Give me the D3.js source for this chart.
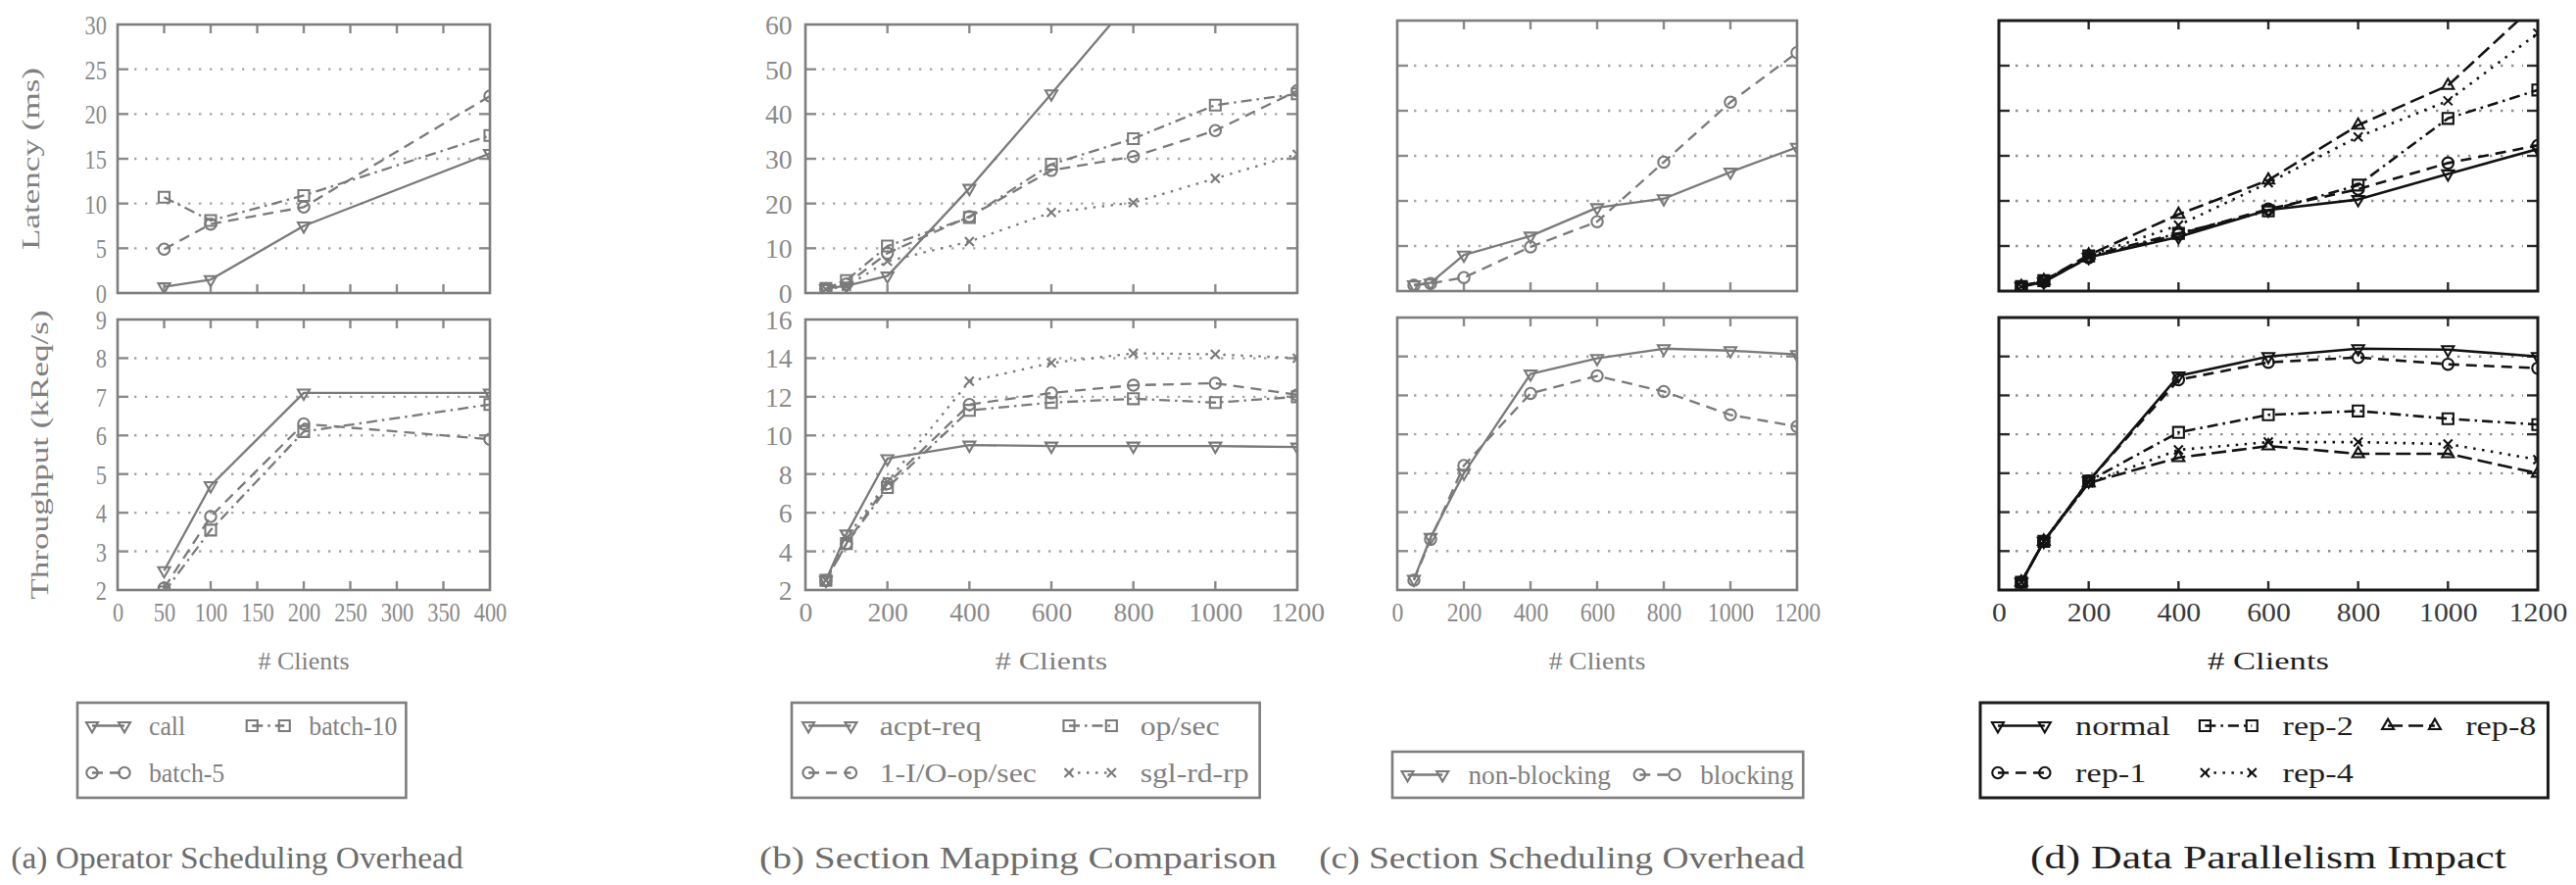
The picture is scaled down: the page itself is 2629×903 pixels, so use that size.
<!DOCTYPE html>
<html>
<head>
<meta charset="utf-8">
<title>Latency and throughput versus number of clients</title>
<script src="https://cdn.jsdelivr.net/npm/d3@7/dist/d3.min.js"></script>
<style>
  html, body { margin: 0; padding: 0; background: #fff; }
  svg { display: block; }
</style>
</head>
<body>
<svg id="fig" width="2629" height="903" viewBox="0 0 2629 903"></svg>
<script>
// ---------------- data ----------------
const clientsA = [50, 100, 200, 400];
const clientsB = [50, 100, 200, 400, 600, 800, 1000, 1200];

const xTicksA = [0, 50, 100, 150, 200, 250, 300, 350, 400];
const xTicksB = [0, 200, 400, 600, 800, 1000, 1200];
const latTicksA = [0, 5, 10, 15, 20, 25, 30];
const thrTicksA = [2, 3, 4, 5, 6, 7, 8, 9];
const latTicksB = [0, 10, 20, 30, 40, 50, 60];
const thrTicksB = [2, 4, 6, 8, 10, 12, 14, 16];

// (a) operator scheduling overhead
const namesA = ['call', 'batch-5', 'batch-10'];
const latCall    = [0.7, 1.5, 7.5, 15.6];
const latBatch5  = [4.9, 7.7, 9.6, 22.0];
const latBatch10 = [10.7, 8.1, 10.9, 17.6];
const thrCall    = [2.5, 4.7, 7.1, 7.1];
const thrBatch5  = [2.05, 3.9, 6.3, 5.9];
const thrBatch10 = [1.95, 3.55, 6.1, 6.8];

// (b) section mapping comparison
const namesB = ['acpt-req', 'op/sec', '1-I/O-op/sec', 'sgl-rd-rp'];
const latAcptReq = [1.0, 1.6, 3.8, 23.4, 44.5, 66.0, 87.0, 108.0];
const latOpSec   = [1.0, 2.8, 10.5, 16.9, 28.8, 34.5, 42.0, 44.5];
const latIoOpSec = [1.0, 2.0, 8.9, 17.1, 27.4, 30.5, 36.3, 45.2];
const latSglRdRp = [0.8, 1.5, 7.1, 11.5, 18.0, 20.2, 25.6, 31.0];
const thrAcptReq = [2.5, 4.9, 8.8, 9.5, 9.45, 9.45, 9.45, 9.4];
const thrOpSec   = [2.5, 4.4, 7.3, 11.3, 11.7, 11.9, 11.7, 12.0];
const thrIoOpSec = [2.5, 4.4, 7.5, 11.6, 12.2, 12.6, 12.7, 12.1];
const thrSglRdRp = [2.5, 4.7, 7.6, 12.8, 13.75, 14.25, 14.2, 14.0];

// (c) section scheduling overhead
const namesC = ['non-blocking', 'blocking'];
const latNonBlocking = [1.4, 1.8, 8.0, 12.2, 18.5, 20.5, 26.4, 31.9];
const latBlocking    = [1.3, 1.7, 3.0, 9.8, 15.4, 28.6, 41.9, 52.9];
const thrNonBlocking = [2.55, 4.7, 8.0, 13.1, 13.9, 14.4, 14.3, 14.1];
const thrBlocking    = [2.5, 4.6, 8.4, 12.1, 13.0, 12.2, 11.0, 10.4];

// (d) data parallelism impact
const namesD = ['normal', 'rep-1', 'rep-2', 'rep-4', 'rep-8'];
const latNormal = [1.0, 2.0, 7.5, 12.0, 18.0, 20.3, 26.0, 31.5];
const latRep1   = [1.0, 2.1, 7.4, 12.6, 18.2, 22.6, 28.4, 32.3];
const latRep2   = [1.0, 2.3, 7.8, 12.8, 17.8, 23.5, 38.3, 44.6];
const latRep4   = [1.0, 2.3, 7.8, 14.6, 24.0, 34.2, 42.2, 57.2];
const latRep8   = [1.0, 2.3, 8.0, 17.0, 24.6, 36.8, 45.6, 64.0];
const thrNormal = [2.4, 4.5, 7.6, 13.0, 14.0, 14.4, 14.35, 14.0];
const thrRep1   = [2.4, 4.5, 7.6, 12.8, 13.7, 13.95, 13.6, 13.4];
const thrRep2   = [2.4, 4.5, 7.6, 10.1, 11.0, 11.2, 10.8, 10.5];
const thrRep4   = [2.4, 4.5, 7.5, 9.2, 9.6, 9.6, 9.5, 8.7];
const thrRep8   = [2.4, 4.5, 7.5, 8.8, 9.4, 9.0, 9.0, 8.0];

const captions = [
  '(a) Operator Scheduling Overhead',
  '(b) Section Mapping Comparison',
  '(c) Section Scheduling Overhead',
  '(d) Data Parallelism Impact'
];
const yTitles = ['Latency (ms)', 'Throughput (kReq/s)'];
const xTitle = '# Clients';

// ---------------- styles ----------------
const SERIF = "'Liberation Serif', 'Times New Roman', Times, serif";
const intFmt = d3.format('d');

const gray = { line: '#7a7a7a', frame: '#7e7e7e', stub: '#8a8a8a', dots: '#a6a6a6',
               tick: '#8a8a8a', label: '#808080', caption: '#6c6c6c', lw: 2.3, fw: 2.6 };
const dark = { line: '#121212', frame: '#1a1a1a', stub: '#2a2a2a', dots: '#8c8c8c',
               tick: '#3a3a3a', label: '#1e1e1e', caption: '#1e1e1e', lw: 2.6, fw: 3.0 };

const SOLID_TRI  = { dash: null,          marker: 'tri-down' };
const DASH_CIRC  = { dash: '11,7',        marker: 'circle' };
const DASHDOT_SQ = { dash: '11,5,2.5,5',  marker: 'square' };
const DOT_X      = { dash: '2.5,6.5',     marker: 'x' };
const LDASH_TRI  = { dash: '15,6',        marker: 'tri-up' };

function markerPath(shape, r) {
  switch (shape) {
    case 'tri-down': return `M${-r},${-r * 0.58}L${r},${-r * 0.58}L0,${r * 1.15}Z`;
    case 'tri-up':   return `M${-r},${r * 0.58}L${r},${r * 0.58}L0,${-r * 1.15}Z`;
    case 'square':   { const s = r * 0.92; return `M${-s},${-s}H${s}V${s}H${-s}Z`; }
    case 'circle':   { const c = r * 0.95; return `M${c},0A${c},${c} 0 1,1 ${-c},0A${c},${c} 0 1,1 ${c},0Z`; }
    case 'x':        { const s = r * 0.75; return `M${-s},${-s}L${s},${s}M${-s},${s}L${s},${-s}`; }
  }
}
const MR = 6;

// ---------------- layout of the four sub-figures ----------------
const subfigs = [
  { key: 'a', left: 120, right: 500, sx: 1.0, theme: gray, clients: clientsA, xTicks: xTicksA,
    plots: [
      { top: 25, bottom: 299, yTicks: latTicksA, series: [latCall, latBatch5, latBatch10], titleX: 31 },
      { top: 326, bottom: 602, yTicks: thrTicksA, series: [thrCall, thrBatch5, thrBatch10], titleX: 40 }
    ],
    yLabels: true, yTitle: true,
    names: namesA, styles: [SOLID_TRI, DASH_CIRC, DASHDOT_SQ],
    legendGrid: [[0, 2], [1]], legendLeft: 79,
    caption: captions[0], captionX: 242, captionSize: 32, captionSx: 1.045 },
  { key: 'b', left: 822, right: 1324, sx: 1.23, theme: gray, clients: clientsB, xTicks: xTicksB,
    plots: [
      { top: 25, bottom: 299, yTicks: latTicksB, series: [latAcptReq, latOpSec, latIoOpSec, latSglRdRp] },
      { top: 326, bottom: 602, yTicks: thrTicksB, series: [thrAcptReq, thrOpSec, thrIoOpSec, thrSglRdRp] }
    ],
    yLabels: true, yTitle: false,
    names: namesB, styles: [SOLID_TRI, DASHDOT_SQ, DASH_CIRC, DOT_X],
    legendGrid: [[0, 1], [2, 3]], legendLeft: 808,
    caption: captions[1], captionX: 1039, captionSize: 32, captionSx: 1.23 },
  { key: 'c', left: 1426, right: 1834, sx: 1.06, theme: gray, clients: clientsB, xTicks: xTicksB,
    plots: [
      { top: 21, bottom: 297, yTicks: latTicksB, series: [latNonBlocking, latBlocking] },
      { top: 324, bottom: 602, yTicks: thrTicksB, series: [thrNonBlocking, thrBlocking] }
    ],
    yLabels: false, yTitle: false,
    names: namesC, styles: [SOLID_TRI, DASH_CIRC],
    legendGrid: [[0, 1]], legendLeft: 1421,
    caption: captions[2], captionX: 1594, captionSize: 32, captionSx: 1.17 },
  { key: 'd', left: 2040, right: 2590, sx: 1.33, theme: dark, clients: clientsB, xTicks: xTicksB,
    plots: [
      { top: 21, bottom: 297, yTicks: latTicksB, series: [latNormal, latRep1, latRep2, latRep4, latRep8] },
      { top: 324, bottom: 602, yTicks: thrTicksB, series: [thrNormal, thrRep1, thrRep2, thrRep4, thrRep8] }
    ],
    yLabels: false, yTitle: false,
    names: namesD, styles: [SOLID_TRI, DASH_CIRC, DASHDOT_SQ, DOT_X, LDASH_TRI],
    legendGrid: [[0, 2, 4], [1, 3]], legendLeft: 2021,
    caption: captions[3], captionX: 2315, captionSize: 33, captionSx: 1.33 }
];

const svg = d3.select('#fig');
svg.append('rect').attr('width', 2629).attr('height', 903).attr('fill', '#fff');

function drawPlot(root, sf, p, pi) {
  const th = sf.theme, k = sf.sx;
  const x = d3.scaleLinear().domain([0, d3.max(sf.xTicks)]).range([sf.left, sf.right]);
  const y = d3.scaleLinear().domain(d3.extent(p.yTicks)).range([p.bottom, p.top]);
  const g = root.append('g');
  const clipId = `clip-${sf.key}-${pi}`;
  g.append('clipPath').attr('id', clipId).append('rect')
    .attr('x', sf.left).attr('y', p.top)
    .attr('width', sf.right - sf.left).attr('height', p.bottom - p.top);

  // dotted horizontal grid between solid tick stubs on both sides
  const inner = p.yTicks.slice(1, -1);
  const stub = 11;
  g.selectAll(null).data(inner).join('line')
    .attr('x1', sf.left + stub + 6).attr('x2', sf.right - stub - 4)
    .attr('y1', d => y(d)).attr('y2', d => y(d))
    .attr('stroke', th.dots).attr('stroke-width', 2.4)
    .attr('stroke-dasharray', '2.4,8.6');
  [[sf.left, sf.left + stub], [sf.right - stub, sf.right]].forEach(([a, b]) => {
    g.selectAll(null).data(inner).join('line')
      .attr('x1', a).attr('x2', b)
      .attr('y1', d => y(d)).attr('y2', d => y(d))
      .attr('stroke', th.stub).attr('stroke-width', 2.4);
  });
  // x ticks on top and bottom edges, pointing inward
  const innerX = sf.xTicks.slice(1, -1);
  [[p.top, p.top + 9], [p.bottom - 9, p.bottom]].forEach(([a, b]) => {
    g.selectAll(null).data(innerX).join('line')
      .attr('x1', d => x(d)).attr('x2', d => x(d))
      .attr('y1', a).attr('y2', b)
      .attr('stroke', th.stub).attr('stroke-width', 2.4);
  });

  // series lines and markers
  const clipped = g.append('g').attr('clip-path', `url(#${clipId})`);
  const line = d3.line().x((d, i) => x(sf.clients[i])).y(d => y(d));
  p.series.forEach((vals, si) => {
    const st = sf.styles[si];
    clipped.append('path').datum(vals)
      .attr('d', line).attr('fill', 'none')
      .attr('stroke', th.line).attr('stroke-width', th.lw)
      .attr('stroke-linejoin', 'round')
      .attr('stroke-dasharray', st.dash);
    clipped.selectAll(null).data(vals).join('path')
      .attr('transform', (d, i) => `translate(${x(sf.clients[i])},${y(d)})`)
      .attr('d', markerPath(st.marker, MR))
      .attr('fill', 'none').attr('stroke', th.line).attr('stroke-width', 2.1);
  });

  // frame
  g.append('rect')
    .attr('x', sf.left).attr('y', p.top)
    .attr('width', sf.right - sf.left).attr('height', p.bottom - p.top)
    .attr('fill', 'none').attr('stroke', th.frame).attr('stroke-width', th.fw);

  // y tick labels
  if (sf.yLabels) {
    const ax = g.append('g').attr('transform', `translate(${sf.left - 11 * k},0)`)
      .call(d3.axisLeft(y).tickValues(p.yTicks).tickFormat(intFmt).tickSize(0).tickPadding(0));
    ax.select('.domain').remove();
    ax.selectAll('text')
      .attr('font-family', SERIF).attr('font-size', 28).attr('fill', th.tick)
      .attr('transform', `scale(${0.8 * k},1)`)
      .attr('x', 0)
      .attr('dy', '0.34em');
  }
  // y axis title
  if (sf.yTitle) {
    root.append('text')
      .attr('transform', `translate(${p.titleX},${(p.top + p.bottom) / 2}) rotate(-90) scale(1.35,1)`)
      .attr('text-anchor', 'middle').attr('dominant-baseline', 'central')
      .attr('font-family', SERIF).attr('font-size', 26).attr('fill', th.label)
      .text(yTitles[pi]);
  }
  return x;
}

function drawLegend(root, sf) {
  const th = sf.theme, k = sf.sx;
  const fs = 28, hs = 0.92;
  const g = root.append('g');
  const meas = g.append('text').attr('font-family', SERIF).attr('font-size', fs).attr('visibility', 'hidden');
  const tw = name => { meas.text(name); return meas.node().getComputedTextLength() * hs * k; };
  const grid = sf.legendGrid;
  const nCols = d3.max(grid, r => r.length);
  const pad = 9 * k, sampleW = 45 * k, gapS = 19 * k, gapC = 22 * k, padR = 9 * k;
  const colW = d3.range(nCols).map(c =>
    sampleW + gapS + d3.max(grid, r => (r[c] != null ? tw(sf.names[r[c]]) : 0)));
  meas.remove();
  const colX = [];
  let cx = sf.legendLeft + pad;
  colW.forEach(w => { colX.push(cx); cx += w + gapC; });
  const boxW = cx - gapC + padR - sf.legendLeft;
  const boxH = grid.length === 1 ? 47 : 97;
  const boxTop = 814 - boxH;
  g.append('rect')
    .attr('x', sf.legendLeft).attr('y', boxTop).attr('width', boxW).attr('height', boxH)
    .attr('fill', '#fff').attr('stroke', th.frame).attr('stroke-width', th.fw);
  grid.forEach((row, ri) => {
    const cy = boxTop + 23.5 + ri * 48;
    row.forEach((si, ci) => {
      const st = sf.styles[si];
      const x0 = colX[ci] + 6, x1 = colX[ci] + sampleW - 6;
      g.append('line').attr('x1', x0).attr('x2', x1).attr('y1', cy).attr('y2', cy)
        .attr('stroke', th.line).attr('stroke-width', th.lw).attr('stroke-dasharray', st.dash);
      [x0, x1].forEach(mx => g.append('path')
        .attr('transform', `translate(${mx},${cy})`)
        .attr('d', markerPath(st.marker, MR))
        .attr('fill', 'none').attr('stroke', th.line).attr('stroke-width', 2.1));
      g.append('text')
        .attr('transform', `translate(${colX[ci] + sampleW + gapS},${cy}) scale(${hs * k},1)`)
        .attr('dy', '0.33em')
        .attr('font-family', SERIF).attr('font-size', fs).attr('fill', th.label)
        .text(sf.names[si]);
    });
  });
}

subfigs.forEach(sf => {
  const root = svg.append('g').attr('class', `subfig-${sf.key}`);
  const th = sf.theme, k = sf.sx;
  let x;
  sf.plots.forEach((p, pi) => { x = drawPlot(root, sf, p, pi); });

  // x tick labels under the lower plot
  const lower = sf.plots[1];
  const ax = root.append('g').attr('transform', `translate(0,${lower.bottom})`)
    .call(d3.axisBottom(x).tickValues(sf.xTicks).tickFormat(intFmt).tickSize(0).tickPadding(12));
  ax.select('.domain').remove();
  ax.selectAll('text')
    .attr('font-family', SERIF).attr('font-size', 28).attr('fill', th.tick)
    .attr('transform', `scale(${0.8 * k},1)`);

  // x axis title
  root.append('text')
    .attr('transform', `translate(${(sf.left + sf.right) / 2},683) scale(${k},1)`)
    .attr('text-anchor', 'middle')
    .attr('font-family', SERIF).attr('font-size', 26).attr('fill', th.label)
    .text(xTitle);

  drawLegend(root, sf);

  // sub-figure caption
  root.append('text')
    .attr('transform', `translate(${sf.captionX},886) scale(${sf.captionSx},1)`)
    .attr('text-anchor', 'middle')
    .attr('font-family', SERIF).attr('font-size', sf.captionSize).attr('fill', th.caption)
    .text(sf.caption);
});
</script>
</body>
</html>
